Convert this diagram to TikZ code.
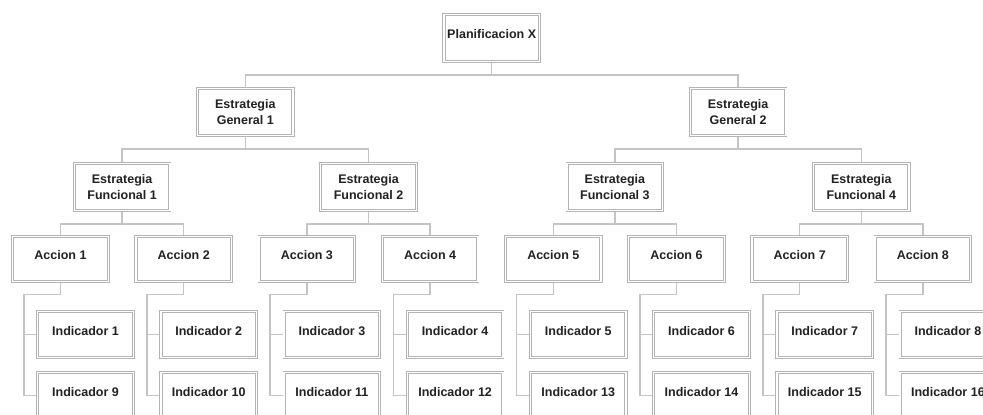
\documentclass[tikz,border=0pt]{standalone}
\usepackage{fontspec}
\setmainfont{Liberation Sans}
\usetikzlibrary{calc,backgrounds}
\definecolor{boxline}{HTML}{B4B4B4}
\definecolor{conn}{HTML}{C4C4C4}
\definecolor{txt}{HTML}{222222}
\tikzset{
 orgbox/.style={draw=boxline, double=white, double distance=1.4pt, line width=0.9pt, fill=white,
   minimum width=95.5pt, minimum height=46.5pt, inner sep=0pt,
   font=\bfseries\fontsize{12.5}{15.5}\selectfont, text=txt, align=center},
 onebox/.style={orgbox, text height=9pt, text depth=8pt},
 actbox/.style={onebox, minimum height=44.5pt},
 link/.style={draw=conn, line width=1.5pt}
}
\begin{document}
\begin{tikzpicture}[x=1pt,y=-1pt]
\useasboundingbox (0,0) rectangle (983,415);
\node[onebox] (P) at (491.7,38) {Planificacion X};
\node[orgbox] (G1) at (245.3,112) {Estrategia\\General 1};
\node[orgbox] (G2) at (738.1,112) {Estrategia\\General 2};
\foreach \k in {1,...,4}
  \node[orgbox] (F\k) at ({122.1+246.4*(\k-1)},187) {Estrategia\\Funcional \k};
\foreach \i in {1,...,8} {
  \pgfmathtruncatemacro\j{\i+8}
  \node[actbox] (A\i) at ({60.5+123.2*(\i-1)},259) {Accion \i};
  \node[onebox] (I\i) at ({85.5+123.2*(\i-1)},334.5) {Indicador \i};
  \node[onebox] (I\j) at ({85.5+123.2*(\i-1)},395.5) {Indicador \j};
}
\begin{scope}[on background layer]
  \draw[link] (P.south) -- ++(0,13.5) coordinate (p0);
  \draw[link] (G1.north) |- (p0) -| (G2.north);
  \draw[link] (G1.south) -- ++(0,13.5) coordinate (g1);
  \draw[link] (F1.north) |- (g1) -| (F2.north);
  \draw[link] (G2.south) -- ++(0,13.5) coordinate (g2);
  \draw[link] (F3.north) |- (g2) -| (F4.north);
  \foreach \k in {1,...,4} {
    \pgfmathtruncatemacro\a{2*\k-1}
    \pgfmathtruncatemacro\b{2*\k}
    \draw[link] (F\k.south) -- ++(0,13.5) coordinate (f\k);
    \draw[link] (A\a.north) |- (f\k) -| (A\b.north);
  }
  \foreach \i in {1,...,8} {
    \pgfmathtruncatemacro\j{\i+8}
    \coordinate (s\i) at ($(I\i.west)+(-13.5,0)$);
    \draw[link] (A\i.south) -- ++(0,13) -| (s\i) |- (I\j.west);
    \draw[link] (s\i) -- (I\i.west);
  }
\end{scope}
\end{tikzpicture}
\end{document}
